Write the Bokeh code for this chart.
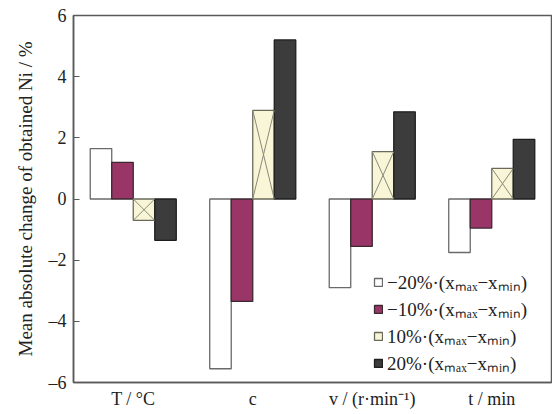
from bokeh.plotting import figure
from bokeh.models import ColumnDataSource, FactorRange, Range1d, Legend, LegendItem, FixedTicker
from bokeh.transform import dodge
from bokeh.embed import file_html
from bokeh.resources import INLINE

# ---- data ----
factors = ["T / °C", "c", "v / (r·min⁻¹)", "t / min"]
minus20 = [1.65, -5.55, -2.9, -1.75]
minus10 = [1.2, -3.35, -1.55, -0.95]
plus10 = [-0.7, 2.9, 1.55, 1.0]
plus20 = [-1.35, 5.2, 2.85, 1.95]
series_labels = ["−20%·(xₘₐₓ−xₘᵢₙ)", "−10%·(xₘₐₓ−xₘᵢₙ)", "10%·(xₘₐₓ−xₘᵢₙ)", "20%·(xₘₐₓ−xₘᵢₙ)"]
y_ticks = [-6, -4, -2, 0, 2, 4, 6]
y_label = "Mean absolute change of obtained Ni / %"

FONT = "Liberation Serif"
AX = "#5a5a5a"
TXT = "#222222"

src = ColumnDataSource(dict(cat=factors, m20=minus20, m10=minus10, p10=plus10, p20=plus20,
                            zero=[0] * len(factors)))

p = figure(x_range=FactorRange(*factors, range_padding=0), y_range=Range1d(-6, 6),
           width=552, height=414, output_backend="svg", toolbar_location=None,
           min_border_left=73, min_border_right=1, min_border_top=15, min_border_bottom=32)
p.xgrid.visible = False
p.ygrid.visible = False
p.outline_line_color = AX
p.outline_line_width = 1.5
p.background_fill_color = "white"

W = 0.18
specs = [("m20", -0.27, "white", "#6a6a6a"),
         ("m10", -0.09, "#9a3568", "#3a2a30"),
         ("p10", 0.09, "#f8f6d6", "#6a6a5a"),
         ("p20", 0.27, "#3c3c3c", "#1e1e1e")]
renderers = []
for col, off, fill, line in specs:
    r = p.vbar(x=dodge("cat", off, range=p.x_range), top=col, bottom=0, width=W, source=src,
               fill_color=fill, line_color=line, line_width=1.3)
    renderers.append(r)

# single X across each 10% bar
p.segment(x0=dodge("cat", 0.09 - W / 2, range=p.x_range), y0="zero",
          x1=dodge("cat", 0.09 + W / 2, range=p.x_range), y1="p10", source=src,
          line_color="#8a8a7a", line_width=1)
p.segment(x0=dodge("cat", 0.09 - W / 2, range=p.x_range), y0="p10",
          x1=dodge("cat", 0.09 + W / 2, range=p.x_range), y1="zero", source=src,
          line_color="#8a8a7a", line_width=1)

# axes
p.yaxis.ticker = FixedTicker(ticks=y_ticks)
p.yaxis.major_label_overrides = {t: (str(t).replace("-", "–")) for t in y_ticks}
p.yaxis.minor_tick_line_color = None
p.yaxis.major_tick_in = 6
p.yaxis.major_tick_out = 0
p.yaxis.major_tick_line_color = AX
p.yaxis.axis_line_color = AX
p.yaxis.axis_line_width = 1.5
p.yaxis.major_label_standoff = 7
p.yaxis.axis_label = y_label
p.yaxis.axis_label_text_font = FONT
p.yaxis.axis_label_text_font_style = "normal"
p.yaxis.axis_label_text_font_size = "19px"
p.yaxis.axis_label_text_color = TXT
p.yaxis.axis_label_standoff = 10

p.xaxis.major_tick_line_color = None
p.xaxis.major_tick_in = 0
p.xaxis.major_tick_out = 0
p.xaxis.minor_tick_line_color = None
p.xaxis.axis_line_color = AX
p.xaxis.axis_line_width = 1.5
p.xaxis.major_label_standoff = 6

for ax in (p.xaxis, p.yaxis):
    ax.major_label_text_font = FONT
    ax.major_label_text_font_size = "18px"
    ax.major_label_text_font_style = "normal"
    ax.major_label_text_color = TXT

legend = Legend(items=[LegendItem(label=lab, renderers=[r]) for lab, r in zip(series_labels, renderers)],
                location=(300, 6), border_line_color=None, background_fill_alpha=0,
                label_text_font=FONT, label_text_font_size="19px", label_text_color=TXT,
                glyph_width=10, glyph_height=10, label_standoff=4, spacing=1, padding=2,
                label_height=22)
p.add_layout(legend)

open("out.html", "w").write(file_html(p, INLINE))
